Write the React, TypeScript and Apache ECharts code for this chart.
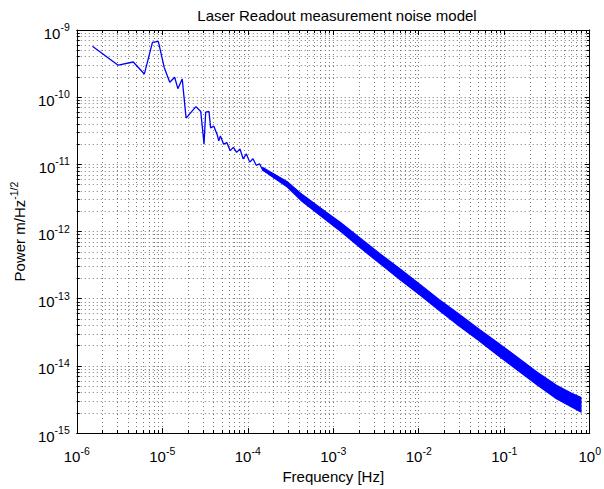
import React, { useEffect, useRef } from "react";
import * as echarts from "echarts";

// ---- data ----
const lowFreq = [
  1.525e-6, 3.05e-6, 4.58e-6, 6.17e-6, 7.68e-6, 8.99e-6, 1.054e-5, 1.224e-5, 1.397e-5,
  1.523e-5, 1.712e-5, 1.9e-5, 2.475e-5, 2.82e-5, 3.08e-5, 3.22e-5, 3.52e-5, 3.68e-5,
  4.01e-5, 4.38e-5, 4.58e-5, 4.79e-5, 5.22e-5, 5.69e-5, 6.23e-5, 6.79e-5, 7.41e-5,
  8.11e-5, 8.84e-5, 9.64e-5, 1.055e-4, 1.151e-4, 1.256e-4, 1.374e-4, 1.499e-4,
  1.788e-4, 2.128e-4, 2.54e-4, 2.9e-4,
];
const lowPower = [
  5.71e-10, 2.99e-10, 3.34e-10, 2.21e-10, 6.53e-10, 6.75e-10, 2.77e-10, 1.67e-10, 1.98e-10,
  1.34e-10, 1.87e-10, 4.89e-11, 7.24e-11, 6.12e-11, 2.0e-11, 5.98e-11, 6.12e-11, 3.5e-11,
  3.7e-11, 2.79e-11, 2.24e-11, 2.65e-11, 2.0e-11, 2.11e-11, 1.6e-11, 1.79e-11, 1.51e-11,
  1.69e-11, 1.21e-11, 1.43e-11, 1.08e-11, 1.21e-11, 9.68e-12, 1.02e-11, 8.19e-12,
  7.31e-12, 6.54e-12, 5.53e-12, 4.95e-12,
];
// dense noisy band at higher frequencies: upper and lower envelope
const bandFreq = [
  1.499e-4, 2.9e-4, 4.3e-4, 7.29e-4, 1.236e-3, 2.093e-3, 3.546e-3, 6.01e-3, 1.018e-2,
  1.725e-2, 2.92e-2, 4.95e-2, 8.39e-2, 1.422e-1, 2.41e-1, 4.08e-1, 6.06e-1, 7.89e-1,
];
const bandUpper = [
  9.0e-12, 5.53e-12, 3.58e-12, 2.18e-12, 1.344e-12, 7.91e-13, 4.63e-13, 2.8e-13, 1.664e-13,
  9.73e-14, 5.98e-14, 3.62e-14, 2.22e-14, 1.345e-14, 8.14e-15, 5.17e-15, 3.96e-15, 3.4e-15,
];
const bandLower = [
  8.2e-12, 4.6e-12, 2.83e-12, 1.67e-12, 9.94e-13, 5.66e-13, 3.31e-13, 1.934e-13, 1.15e-13,
  6.73e-14, 4.0e-14, 2.42e-14, 1.44e-14, 8.7e-15, 5.26e-15, 3.24e-15, 2.47e-15, 2.06e-15,
];

// tick definitions
const xDecades = [-6, -5, -4, -3, -2, -1, 0];
const yDecades = [-15, -14, -13, -12, -11, -10, -9];
const minorSteps = [2, 3, 4, 5, 6, 7, 8, 9];

const FONT = "'Liberation Sans', Arial, Helvetica, sans-serif";
const BLUE = "#0000ff";

function majors(decs: number[]) {
  return decs.map((e) => Number(`1e${e}`));
}
function minors(decs: number[]) {
  const out: number[] = [];
  decs.slice(0, -1).forEach((e) => minorSteps.forEach((m) => out.push(Number(`${m}e${e}`))));
  return out;
}

const rich = {
  b: { fontSize: 15, fontFamily: FONT, color: "#000", padding: [6, 0, 0, 0] },
  s: { fontSize: 10.5, fontFamily: FONT, color: "#000", padding: [0, 0, 6, 0] },
};

const fmt = (v: number) => `{b|10}{s|${Math.round(Math.log10(v))}}`;

const gridLine = { show: true, lineStyle: { color: "#7a7a7a", width: 1, type: [1, 3] } };

function makeAxes(dim: "x" | "y") {
  const decs = dim === "x" ? xDecades : yDecades;
  const min = Number(`1e${decs[0]}`);
  const max = Number(`1e${decs[decs.length - 1]}`);
  const pos = dim === "x" ? ["bottom", "top"] : ["left", "right"];
  const base = {
    type: "log",
    min,
    max,
    logBase: 10,
    axisLine: { show: true, onZero: false, lineStyle: { color: "#000", width: 1 } },
    minorTick: { show: false },
    minorSplitLine: { show: false },
  };
  const maj = majors(decs);
  const mnr = minors(decs);
  const axes: any[] = [
    {
      ...base,
      position: pos[0],
      axisTick: { show: true, inside: true, length: 5, customValues: maj, lineStyle: { color: "#000" } },
      axisLabel: {
        show: true,
        customValues: maj,
        formatter: fmt,
        rich,
        margin: dim === "x" ? 10 : 7,
        color: "#000",
      },
      splitLine: gridLine,
    },
    {
      ...base,
      position: pos[1],
      axisTick: { show: true, inside: true, length: 5, customValues: maj, lineStyle: { color: "#000" } },
      axisLabel: { show: false },
      splitLine: { show: false },
    },
    {
      ...base,
      position: pos[0],
      axisLine: { show: false },
      axisTick: { show: true, inside: true, length: 3, customValues: mnr, lineStyle: { color: "#000" } },
      axisLabel: { show: false },
      splitLine: gridLine,
    },
    {
      ...base,
      position: pos[1],
      axisLine: { show: false },
      axisTick: { show: true, inside: true, length: 3, customValues: mnr, lineStyle: { color: "#000" } },
      axisLabel: { show: false },
      splitLine: { show: false },
    },
  ];
  if (dim === "x") {
    Object.assign(axes[0], {
      name: "Frequency [Hz]",
      nameLocation: "middle",
      nameGap: 29,
      nameTextStyle: { color: "#000", fontSize: 15, fontFamily: FONT },
    });
  } else {
    Object.assign(axes[0], {
      name: "{b|Power m/Hz}{s|-1/2}",
      nameLocation: "middle",
      nameGap: 44,
      nameRotate: 90,
      nameTextStyle: { color: "#000", fontSize: 15, fontFamily: FONT, rich },
    });
  }
  return axes;
}

export default function App() {
  const ref = useRef<HTMLDivElement>(null);
  useEffect(() => {
    if (!ref.current) return;
    const chart = echarts.init(ref.current, undefined, { renderer: "svg" });
    chart.setOption({
      animation: false,
      backgroundColor: "#fff",
      title: {
        text: "Laser Readout measurement noise model",
        left: 332,
        textAlign: "center",
        top: 3,
        textStyle: { color: "#000", fontSize: 15, fontWeight: "normal", fontFamily: FONT },
      },
      grid: { left: 70, right: 10, top: 30, bottom: 47, containLabel: false },
      xAxis: makeAxes("x"),
      yAxis: makeAxes("y"),
      series: [
        {
          type: "custom",
          name: "band",
          xAxisIndex: 0,
          yAxisIndex: 0,
          clip: true,
          data: bandFreq.map((f, i) => [f, bandUpper[i], bandLower[i]]),
          encode: { x: 0, y: [1, 2] },
          renderItem: (params: any, api: any) => {
            if (params.dataIndex !== 0) return null;
            const pts: number[][] = [];
            for (let i = 0; i < bandFreq.length; i++) pts.push(api.coord([bandFreq[i], bandUpper[i]]));
            for (let i = bandFreq.length - 1; i >= 0; i--) pts.push(api.coord([bandFreq[i], bandLower[i]]));
            return {
              type: "polygon",
              shape: { points: pts },
              style: { fill: BLUE, stroke: BLUE, lineWidth: 1.2 },
            };
          },
        },
        {
          type: "line",
          name: "low",
          xAxisIndex: 0,
          yAxisIndex: 0,
          data: lowFreq.map((f, i) => [f, lowPower[i]]),
          showSymbol: false,
          symbol: "none",
          lineStyle: { color: BLUE, width: 1.3 },
        },
      ],
    });
    return () => chart.dispose();
  }, []);
  return (
    <div
      ref={ref}
      style={{ position: "fixed", left: 0, top: 0, width: 604, height: 489, background: "#fff" }}
    />
  );
}
